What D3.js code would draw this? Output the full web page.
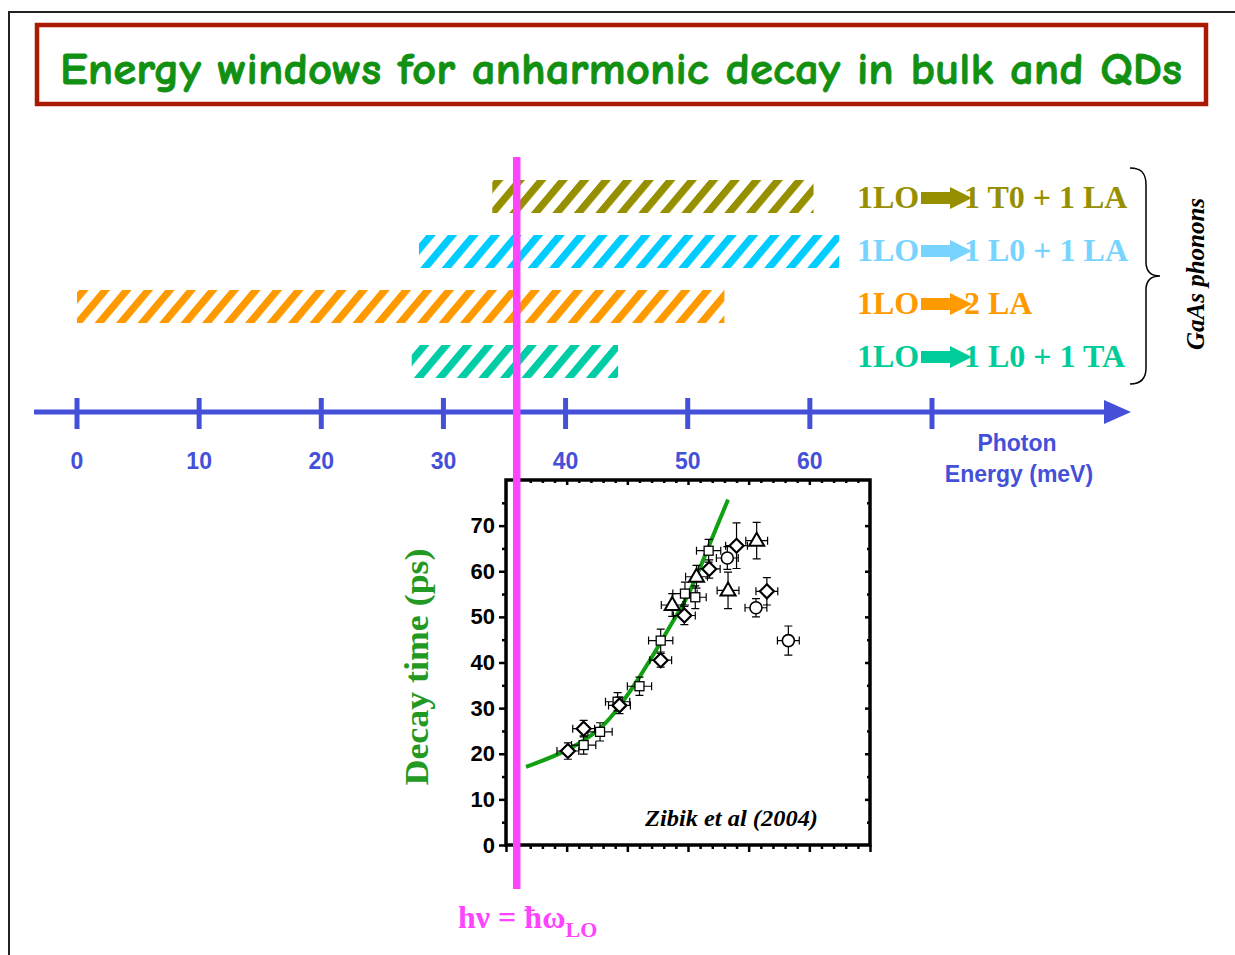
<!DOCTYPE html>
<html><head><meta charset="utf-8">
<script src="https://cdn.jsdelivr.net/npm/d3@7"></script>
<style>body{margin:0;background:#fff} svg{display:block}</style>
</head><body>
<svg id="c" width="1235" height="955"></svg>
<script>
// ---------- data ----------
const title = "Energy windows for anharmonic decay in bulk and QDs";
const procFrom = ["1LO", "1LO", "1LO", "1LO"];
const procTo = ["1 T0 + 1 LA", "1 L0 + 1 LA", "2 LA", "1 L0 + 1 TA"];
const windowStart = [34, 28, 0, 27.4];     // meV
const windowEnd = [60.3, 62.4, 53, 44.3];  // meV
const hatchColors = ["#969000", "#00ccff", "#ff9900", "#00cca6"];
const labelColors = ["#969000", "#77d4ff", "#ff9900", "#00cc99"];
const energyTicks = [0, 10, 20, 30, 40, 50, 60, 70];
const energyTickLabels = ["0", "10", "20", "30", "40", "50", "60", ""];
const loEnergy = 36; // meV
const decayTicks = [0, 10, 20, 30, 40, 50, 60, 70];
// inset points: [energy meV, decay ps, x error, y error]
const squares = [[41.4, 21.9, 1.0, 2.0], [42.75, 24.8, 1.0, 2.0], [44.2, 31.4, 1.0, 2.0], [46.0, 34.8, 1.0, 2.0],
  [47.75, 44.8, 1.0, 2.5], [49.75, 55.1, 1.0, 2.5], [50.6, 54.3, 0.9, 2.5], [51.7, 64.5, 1.0, 2.5]];
const diamonds = [[40.1, 20.6, 0.9, 1.8], [41.4, 25.5, 0.9, 1.8], [44.35, 30.6, 0.9, 1.8], [47.75, 40.5, 0.9, 1.5],
  [49.7, 50.3, 0.9, 2.0], [51.75, 60.5, 0.9, 2.0], [54.0, 65.6, 0.9, 5.0], [56.5, 55.6, 0.9, 3.0]];
const triangles = [[48.7, 52.6, 0.9, 2.5], [50.7, 58.8, 0.9, 2.5], [53.3, 55.8, 0.9, 4.0], [55.66, 66.7, 0.9, 4.0]];
const circles = [[53.24, 62.9, 0.9, 2.5], [55.6, 52.0, 0.9, 2.0], [58.27, 44.8, 0.9, 3.2]];
const fitCurve = [[36.65, 17.1], [40.0, 20.8], [42.75, 25.6], [44.4, 30.6], [46.0, 36.8], [47.7, 44.2],
  [48.8, 49.2], [49.9, 54.3], [51.0, 60.8], [52.1, 68.0], [53.3, 75.7]];

// ---------- drawing ----------
const svg = d3.select("#c");
const blue = "#4450d8";
const serif = "'Liberation Serif','Times New Roman',serif";
const sans = "'Liberation Sans',Arial,sans-serif";

// outer frame
svg.append("path").attr("d", "M8,12H1235M9,12V955").attr("stroke", "#222").attr("stroke-width", 2).attr("fill", "none");

// title box
svg.append("rect").attr("x", 37).attr("y", 25).attr("width", 1169).attr("height", 79)
  .attr("fill", "#fff").attr("stroke", "#aa1a00").attr("stroke-width", 4.5);
svg.append("text").attr("x", 60).attr("y", 84).text(title)
  .attr("font-family", "'Comic Sans MS','Comic Neue',Lato,sans-serif").attr("font-weight", "900")
  .attr("font-size", 45).attr("fill", "#119011").attr("stroke", "#119011").attr("stroke-width", 0.8)
  .attr("textLength", 1122).attr("lengthAdjust", "spacingAndGlyphs");

// energy scale
const xE = d3.scaleLinear().domain([0, 70]).range([77, 932]);
const idx = d3.range(procTo.length);
const yRow = d3.scalePoint().domain(idx).range([196.5, 361.5]);
const yLab = d3.scalePoint().domain(idx).range([208, 367]);
const barH = 33;

const defs = svg.append("defs");
idx.forEach(i => {
  const p = defs.append("pattern").attr("id", "hatch" + i).attr("patternUnits", "userSpaceOnUse")
    .attr("width", 21.5).attr("height", 40).attr("patternTransform", "skewX(-40)");
  p.append("rect").attr("x", 0).attr("y", 0).attr("width", 9.5).attr("height", 40).attr("fill", hatchColors[i]);
});

svg.append("g").selectAll("rect").data(idx).join("rect")
  .attr("x", i => xE(windowStart[i])).attr("width", i => xE(windowEnd[i]) - xE(windowStart[i]))
  .attr("y", i => yRow(i) - barH / 2).attr("height", barH)
  .attr("fill", i => `url(#hatch${i})`);

// labels
const lab = svg.append("g").attr("font-family", serif).attr("font-weight", "bold").attr("font-size", 32);
idx.forEach(i => {
  const y = yLab(i);
  lab.append("text").attr("x", 857).attr("y", y).attr("fill", labelColors[i]).text(procFrom[i]);
  lab.append("text").attr("x", 964).attr("y", y).attr("fill", labelColors[i]).text(procTo[i]);
  const c = y - 10;
  lab.append("path").attr("fill", labelColors[i])
    .attr("d", `M921,${c - 6}H950V${c - 11}L972,${c}L950,${c + 11}V${c + 6}H921Z`);
});

// brace
svg.append("path").attr("fill", "none").attr("stroke", "#000").attr("stroke-width", 1.5)
  .attr("d", "M1130,168C1142,168 1146,174 1146,185V262C1146,272 1152,276 1160,276C1152,276 1146,280 1146,290V368C1146,378 1142,384 1130,384");
svg.append("text").attr("transform", "translate(1204,274) rotate(-90)").attr("text-anchor", "middle")
  .attr("font-family", serif).attr("font-weight", "bold").attr("font-style", "italic").attr("font-size", 25)
  .text("GaAs phonons");

// energy axis
svg.append("line").attr("x1", 34).attr("x2", 1110).attr("y1", 412).attr("y2", 412)
  .attr("stroke", blue).attr("stroke-width", 5);
svg.append("path").attr("d", "M1104,400L1131,412L1104,424Z").attr("fill", blue);
svg.append("g").selectAll("line").data(energyTicks).join("line")
  .attr("x1", d => xE(d)).attr("x2", d => xE(d)).attr("y1", 398).attr("y2", 429)
  .attr("stroke", blue).attr("stroke-width", 5);
svg.append("g").selectAll("text").data(energyTicks).join("text")
  .attr("x", d => xE(d)).attr("y", 469).attr("text-anchor", "middle")
  .attr("font-family", sans).attr("font-weight", "bold").attr("font-size", 23).attr("fill", blue)
  .text((d, i) => energyTickLabels[i]);
const pe = svg.append("text").attr("text-anchor", "middle").attr("font-family", sans)
  .attr("font-weight", "bold").attr("font-size", 23).attr("fill", blue);
pe.append("tspan").attr("x", 1017).attr("y", 451).text("Photon");
pe.append("tspan").attr("x", 1019).attr("y", 482).text("Energy (meV)");

// ---------- inset ----------
const xI = d3.scaleLinear().domain([35, 65]).range([506, 870]);
const yI = d3.scaleLinear().domain([0, 80]).range([845, 480]);
const ins = svg.append("g");
ins.append("rect").attr("x", 506).attr("y", 480).attr("width", 364).attr("height", 365)
  .attr("fill", "#fff").attr("stroke", "#000").attr("stroke-width", 3.5);

function axisStyle(g) {
  g.select(".domain").remove();
  g.selectAll("line").attr("stroke", "#000").attr("stroke-width", 2.5);
}
// left
ins.append("g").attr("transform", "translate(506,0)")
  .call(d3.axisLeft(yI).tickValues(decayTicks).tickSize(7).tickPadding(4).tickFormat(d3.format("d")))
  .call(axisStyle)
  .call(g => g.selectAll("text").attr("font-family", sans).attr("font-weight", "bold").attr("font-size", 22).attr("fill", "#000"));
ins.append("g").attr("transform", "translate(506,0)")
  .call(d3.axisLeft(yI).tickValues(d3.range(5, 80, 10)).tickSize(4).tickFormat(""))
  .call(axisStyle);
// right (inward)
ins.append("g").attr("transform", "translate(870,0)")
  .call(d3.axisLeft(yI).tickValues(d3.range(10, 80, 10)).tickSize(5).tickFormat("")).call(axisStyle);
ins.append("g").attr("transform", "translate(870,0)")
  .call(d3.axisLeft(yI).tickValues(d3.range(5, 80, 10)).tickSize(3).tickFormat("")).call(axisStyle);
// bottom (outward)
ins.append("g").attr("transform", "translate(0,845)")
  .call(d3.axisBottom(xI).tickValues(d3.range(35, 66, 5)).tickSize(7).tickFormat("")).call(axisStyle);
ins.append("g").attr("transform", "translate(0,845)")
  .call(d3.axisBottom(xI).tickValues(d3.range(36, 65, 1).filter(d => d % 5)).tickSize(4).tickFormat("")).call(axisStyle);
// top (inward)
ins.append("g").attr("transform", "translate(0,480)")
  .call(d3.axisBottom(xI).tickValues(d3.range(40, 65, 5)).tickSize(5).tickFormat("")).call(axisStyle);
ins.append("g").attr("transform", "translate(0,480)")
  .call(d3.axisBottom(xI).tickValues(d3.range(36, 65, 1).filter(d => d % 5)).tickSize(3).tickFormat("")).call(axisStyle);

// y label
svg.append("text").attr("transform", "translate(428,667) rotate(-90)").attr("text-anchor", "middle")
  .attr("font-family", serif).attr("font-weight", "bold").attr("font-size", 33).attr("fill", "#229922")
  .attr("textLength", 237).attr("lengthAdjust", "spacingAndGlyphs")
  .text("Decay time (ps)");

// fit curve
ins.append("path").datum(fitCurve)
  .attr("d", d3.line().x(d => xI(d[0])).y(d => yI(d[1])).curve(d3.curveNatural))
  .attr("fill", "none").attr("stroke", "#11a011").attr("stroke-width", 4);

// error bars + markers
function errBars(data) {
  const g = ins.append("g").attr("stroke", "#000").attr("stroke-width", 1.2).attr("fill", "none");
  data.forEach(d => {
    const x = xI(d[0]), y = yI(d[1]);
    const x0 = xI(d[0] - d[2]), x1 = xI(d[0] + d[2]);
    const y0 = yI(d[1] - d[3]), y1 = yI(d[1] + d[3]);
    g.append("path").attr("d",
      `M${x0},${y}H${x1}M${x0},${y - 4}V${y + 4}M${x1},${y - 4}V${y + 4}` +
      `M${x},${y0}V${y1}M${x - 4},${y0}H${x + 4}M${x - 4},${y1}H${x + 4}`);
  });
}
[squares, diamonds, triangles, circles].forEach(errBars);

const mk = ins.append("g").attr("fill", "#fff").attr("stroke", "#000");
mk.selectAll(".sq").data(squares).join("rect").attr("class", "sq")
  .attr("x", d => xI(d[0]) - 4.5).attr("y", d => yI(d[1]) - 4.5).attr("width", 9).attr("height", 9)
  .attr("stroke-width", 1.3);
mk.selectAll(".tr").data(triangles).join("path").attr("class", "tr")
  .attr("d", d => { const x = xI(d[0]), y = yI(d[1]); return `M${x},${y - 8}L${x + 7.5},${y + 5}L${x - 7.5},${y + 5}Z`; })
  .attr("stroke-width", 2);
mk.selectAll(".ci").data(circles).join("circle").attr("class", "ci")
  .attr("cx", d => xI(d[0])).attr("cy", d => yI(d[1])).attr("r", 6).attr("stroke-width", 1.6);
mk.selectAll(".di").data(diamonds).join("path").attr("class", "di")
  .attr("d", d => { const x = xI(d[0]), y = yI(d[1]); return `M${x},${y - 7}L${x + 7},${y}L${x},${y + 7}L${x - 7},${y}Z`; })
  .attr("stroke-width", 2.2);

ins.append("text").attr("x", 645).attr("y", 826)
  .attr("font-family", serif).attr("font-weight", "bold").attr("font-style", "italic").attr("font-size", 24)
  .attr("textLength", 173).attr("lengthAdjust", "spacingAndGlyphs").text("Zibik et al (2004)");

// LO phonon line
svg.append("line").attr("x1", xE(loEnergy)).attr("x2", xE(loEnergy)).attr("y1", 157).attr("y2", 889)
  .attr("stroke", "#ff44ff").attr("stroke-width", 7.5);
const lo = svg.append("text").attr("x", 458).attr("y", 928).attr("font-family", serif).attr("font-weight", "bold")
  .attr("font-size", 32).attr("fill", "#ff44ff");
lo.append("tspan").text("hν = ħω");
lo.append("tspan").attr("font-size", 22).attr("dy", 9).text("LO");
</script>
</body></html>
